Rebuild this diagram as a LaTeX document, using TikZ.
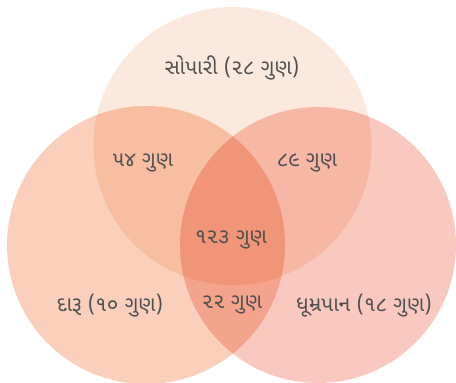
\documentclass[tikz,border=0pt]{standalone}
\usepackage{fontspec}
\newfontfamily\gujfont[Script=Gujarati]{Noto Sans Gujarati UI}
\definecolor{topc}{HTML}{FCE9DD}
\definecolor{leftc}{HTML}{FAD0BC}
\definecolor{rightc}{HTML}{F9C9BF}
\definecolor{txt}{HTML}{505050}
\tikzset{
  lbl/.style={font=\gujfont\fontsize{21}{25}\selectfont, text=txt, inner sep=0pt},
}
\begin{document}
\begin{tikzpicture}[x=1pt,y=-1pt]
\useasboundingbox (0,0) rectangle (456,383);
\begin{scope}
\clip (0,0) rectangle (456,383);
\begin{scope}[blend group=multiply]
\fill[topc] (232.5,146) circle (139);
\fill[leftc] (146,245) circle (139);
\fill[rightc] (318,245) circle (138);
\end{scope}
\end{scope}
\node[lbl] (a) at (232,68) {સોપારી (૨૮ ગુણ)};
\node[lbl] (ab) at (143,163) {૫૪ ગુણ};
\node[lbl] (ac) at (307,163) {૮૯ ગુણ};
\node[lbl] (abc) at (231,240) {૧૨૩ ગુણ};
\node[lbl] (b) at (110,306) {દારૂ (૧૦ ગુણ)};
\node[lbl] (bc) at (232,305) {૨૨ ગુણ};
\node[lbl] (c) at (364,306) {ધૂમ્રપાન (૧૮ ગુણ)};
\end{tikzpicture}
\end{document}
